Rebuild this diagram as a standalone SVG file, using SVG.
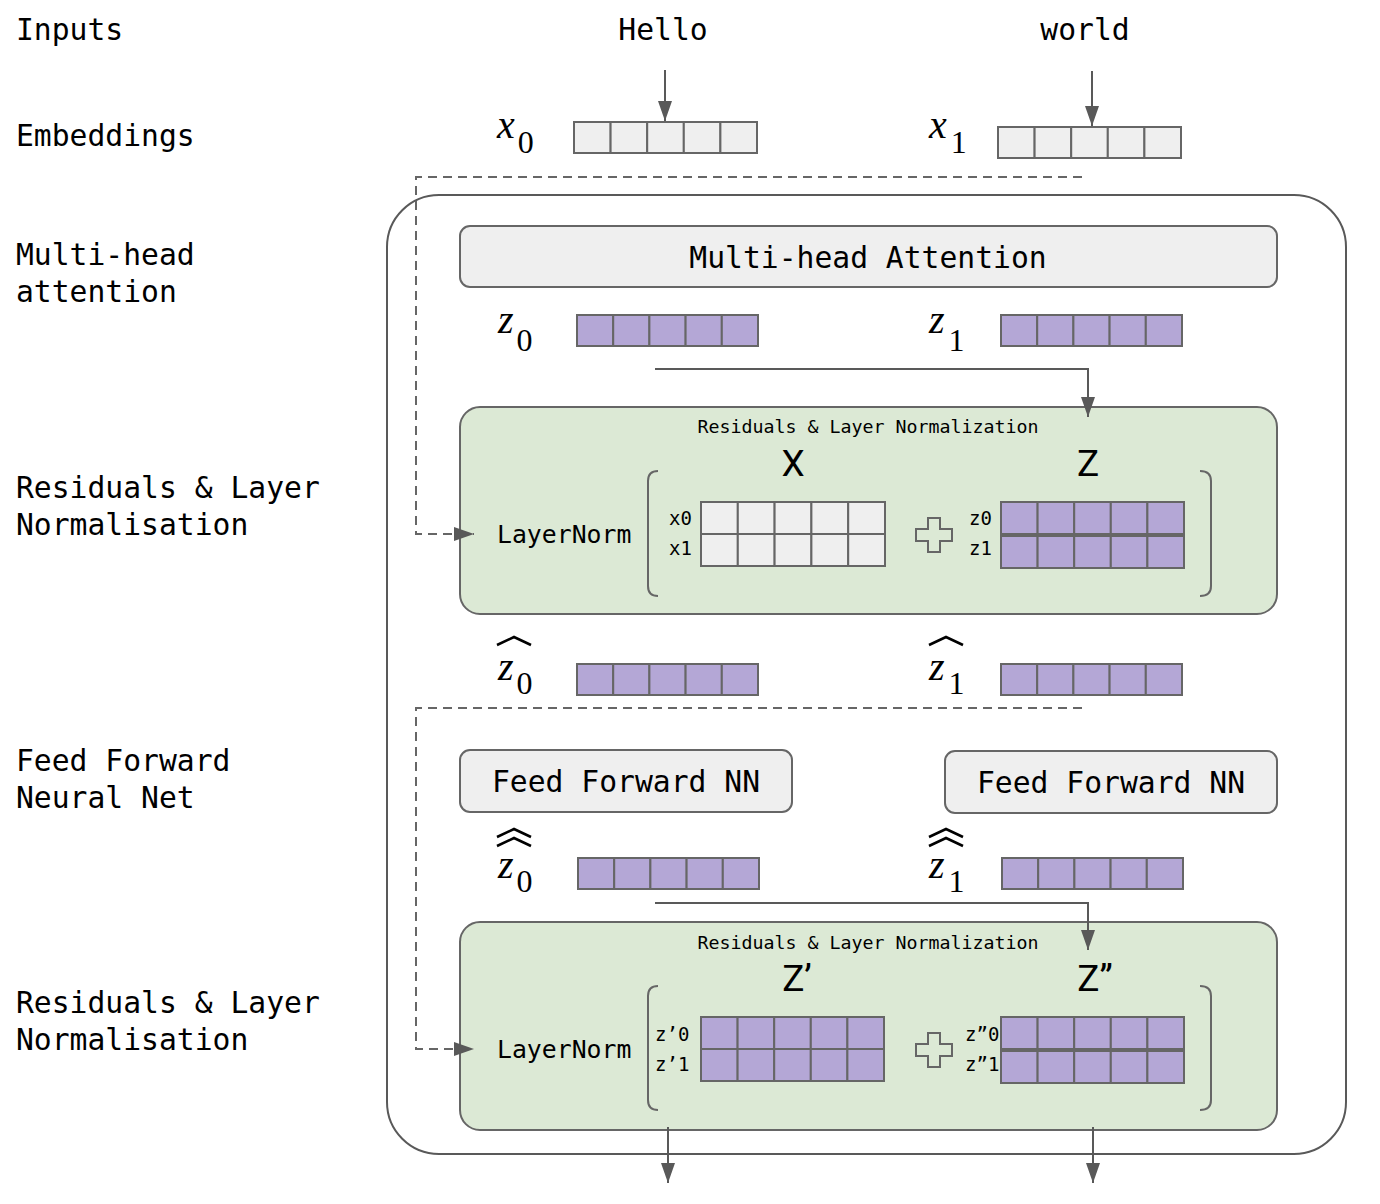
<svg xmlns="http://www.w3.org/2000/svg" xmlns:xlink="http://www.w3.org/1999/xlink" width="1380" height="1204" viewBox="0 0 1380 1204">
<style>
.lbl{font-family:"DejaVu Sans Mono","Liberation Mono",monospace;font-size:29.7px;fill:#000}
.mid{text-anchor:middle}
.small{font-family:"DejaVu Sans Mono","Liberation Mono",monospace;font-size:18.3px;fill:#000}
.ln{font-family:"DejaVu Sans Mono","Liberation Mono",monospace;font-size:24.8px;fill:#000}
.ml{font-family:"DejaVu Sans Mono","Liberation Mono",monospace;font-size:19px;fill:#000}
.big{font-family:Roboto,"Liberation Sans",sans-serif;font-size:37px;fill:#000;text-anchor:middle}
.math{font-family:"Liberation Serif",serif;font-size:32px;fill:#000}
.it{font-style:italic;font-size:40px}
.cg{fill:#efefef;stroke:#666;stroke-width:2}
.cp{fill:#b4a7d6;stroke:#666;stroke-width:2}
.box{fill:#efefef;stroke:#666;stroke-width:2}
.green{fill:#dce9d5;stroke:#666;stroke-width:2}
.conn{fill:none;stroke:#595959;stroke-width:2}
.dash{fill:none;stroke:#666;stroke-width:2;stroke-dasharray:9 6}
.hat{fill:none;stroke:#000;stroke-width:2.6;stroke-linejoin:miter}
.brk{fill:none;stroke:#666;stroke-width:2}
.plus{fill:none;stroke:#666;stroke-width:2}
</style>
<defs>
<marker id="ah" markerUnits="userSpaceOnUse" markerWidth="22" markerHeight="16" refX="20" refY="7" orient="auto">
<path d="M0,0 L20,7 L0,14 z" fill="#595959"/>
</marker>
<g id="vg">
<rect class="cg" x="0" y="0" width="36.6" height="31"/><rect class="cg" x="36.6" y="0" width="36.6" height="31"/><rect class="cg" x="73.2" y="0" width="36.6" height="31"/><rect class="cg" x="109.8" y="0" width="36.6" height="31"/><rect class="cg" x="146.4" y="0" width="36.6" height="31"/>
</g>
<g id="vp">
<rect class="cp" x="0" y="0" width="36.2" height="31"/><rect class="cp" x="36.2" y="0" width="36.2" height="31"/><rect class="cp" x="72.4" y="0" width="36.2" height="31"/><rect class="cp" x="108.6" y="0" width="36.2" height="31"/><rect class="cp" x="144.8" y="0" width="36.2" height="31"/>
</g>
<g id="mg">
<rect class="cg" x="0" y="0" width="36.8" height="32"/><rect class="cg" x="36.8" y="0" width="36.8" height="32"/><rect class="cg" x="73.6" y="0" width="36.8" height="32"/><rect class="cg" x="110.4" y="0" width="36.8" height="32"/><rect class="cg" x="147.2" y="0" width="36.8" height="32"/>
</g>
<g id="mp">
<rect class="cp" x="0" y="0" width="36.6" height="32"/><rect class="cp" x="36.6" y="0" width="36.6" height="32"/><rect class="cp" x="73.2" y="0" width="36.6" height="32"/><rect class="cp" x="109.8" y="0" width="36.6" height="32"/><rect class="cp" x="146.4" y="0" width="36.6" height="32"/>
</g>
<path id="pl" class="plus" d="M-6,-17 H6 V-6 H18 V6 H6 V17 H-6 V6 H-18 V-6 H-6 Z"/>
</defs>

<g id="row-labels">
<text class="lbl" x="16" y="40">Inputs</text>
<text class="lbl" x="16" y="146">Embeddings</text>
<text class="lbl" x="16" y="265">Multi-head</text>
<text class="lbl" x="16" y="302">attention</text>
<text class="lbl" x="16" y="498">Residuals &amp; Layer</text>
<text class="lbl" x="16" y="535">Normalisation</text>
<text class="lbl" x="16" y="771">Feed Forward</text>
<text class="lbl" x="16" y="808">Neural Net</text>
<text class="lbl" x="16" y="1013">Residuals &amp; Layer</text>
<text class="lbl" x="16" y="1050">Normalisation</text>
</g>

<g id="input-hello"><text class="lbl mid" x="663" y="40">Hello</text></g>
<g id="input-world"><text class="lbl mid" x="1085" y="40">world</text></g>

<g id="container"><rect x="387" y="195" width="959" height="959" rx="52" fill="none" stroke="#595959" stroke-width="2"/></g>

<g id="emb-x0">
<text class="math" x="497" y="138"><tspan class="it">x</tspan><tspan dx="3" dy="15">0</tspan></text>
<use xlink:href="#vg" x="574" y="122"/>
</g>
<g id="emb-x1">
<text class="math" x="929" y="138"><tspan class="it">x</tspan><tspan dx="4" dy="15">1</tspan></text>
<use xlink:href="#vg" x="998" y="127"/>
</g>

<g id="mha"><rect class="box" x="460" y="226" width="817" height="61" rx="10"/><text class="lbl mid" x="868" y="268">Multi-head Attention</text></g>

<g id="z0">
<text class="math" x="498" y="333"><tspan class="it">z</tspan><tspan dx="3" dy="18">0</tspan></text>
<use xlink:href="#vp" x="577" y="315"/>
</g>
<g id="z1">
<text class="math" x="929" y="333"><tspan class="it">z</tspan><tspan dx="4" dy="18">1</tspan></text>
<use xlink:href="#vp" x="1001" y="315"/>
</g>

<g id="res1">
<rect class="green" x="460" y="407" width="817" height="207" rx="20"/>
<text class="small mid" x="868" y="433">Residuals &amp; Layer Normalization</text>
<text class="big" x="793" y="476">X</text>
<text class="big" x="1088" y="476">Z</text>
<text class="ln" x="497" y="543">LayerNorm</text>
<path class="brk" d="M658,471 Q648,471 648,481 V586 Q648,596 658,596"/>
<path class="brk" d="M1200,471 Q1211,471 1211,481 V586 Q1211,596 1200,596"/>
<text class="ml" x="669" y="525">x0</text>
<text class="ml" x="669" y="555">x1</text>
<use xlink:href="#mg" x="701" y="502"/>
<use xlink:href="#mg" x="701" y="534"/>
<use xlink:href="#pl" x="934" y="535"/>
<text class="ml" x="969" y="525">z0</text>
<text class="ml" x="969" y="555">z1</text>
<use xlink:href="#mp" x="1001" y="502"/>
<use xlink:href="#mp" x="1001" y="536"/>
</g>

<g id="zh0">
<path class="hat" d="M497,645 L514,637 L531,645"/>
<text class="math" x="498" y="680"><tspan class="it">z</tspan><tspan dx="3" dy="14">0</tspan></text>
<use xlink:href="#vp" x="577" y="664"/>
</g>
<g id="zh1">
<path class="hat" d="M929,645 L946,637 L963,645"/>
<text class="math" x="929" y="680"><tspan class="it">z</tspan><tspan dx="4" dy="14">1</tspan></text>
<use xlink:href="#vp" x="1001" y="664"/>
</g>

<g id="ffn0"><rect class="box" x="460" y="750" width="332" height="62" rx="10"/><text class="lbl mid" x="626" y="792">Feed Forward NN</text></g>
<g id="ffn1"><rect class="box" x="945" y="751" width="332" height="62" rx="10"/><text class="lbl mid" x="1111" y="793">Feed Forward NN</text></g>

<g id="zhh0">
<path class="hat" d="M497,837 L514,829 L531,837"/>
<path class="hat" d="M497,846 L514,838 L531,846"/>
<text class="math" x="498" y="878"><tspan class="it">z</tspan><tspan dx="3" dy="14">0</tspan></text>
<use xlink:href="#vp" x="578" y="858"/>
</g>
<g id="zhh1">
<path class="hat" d="M929,837 L946,829 L963,837"/>
<path class="hat" d="M929,846 L946,838 L963,846"/>
<text class="math" x="929" y="878"><tspan class="it">z</tspan><tspan dx="4" dy="14">1</tspan></text>
<use xlink:href="#vp" x="1002" y="858"/>
</g>

<g id="res2">
<rect class="green" x="460" y="922" width="817" height="208" rx="20"/>
<text class="small mid" x="868" y="949">Residuals &amp; Layer Normalization</text>
<text class="big" x="797" y="991">Z’</text>
<text class="big" x="1095" y="991">Z”</text>
<text class="ln" x="497" y="1058">LayerNorm</text>
<path class="brk" d="M658,986 Q648,986 648,996 V1100 Q648,1110 658,1110"/>
<path class="brk" d="M1200,986 Q1211,986 1211,996 V1100 Q1211,1110 1200,1110"/>
<text class="ml" x="655" y="1041">z’0</text>
<text class="ml" x="655" y="1071">z’1</text>
<use xlink:href="#mp" x="701" y="1017"/>
<use xlink:href="#mp" x="701" y="1049"/>
<use xlink:href="#pl" x="934" y="1050"/>
<text class="ml" x="965" y="1041">z”0</text>
<text class="ml" x="965" y="1071">z”1</text>
<use xlink:href="#mp" x="1001" y="1017"/>
<use xlink:href="#mp" x="1001" y="1051"/>
</g>

<g id="connectors">
<line class="conn" x1="665" y1="70" x2="665" y2="121" marker-end="url(#ah)"/>
<line class="conn" x1="1092" y1="71" x2="1092" y2="126" marker-end="url(#ah)"/>
<path class="dash" d="M1082,177 H416 V534 H474" marker-end="url(#ah)"/>
<path class="conn" d="M655,369 H1088 V417" marker-end="url(#ah)"/>
<path class="dash" d="M1082,708 H416 V1049 H474" marker-end="url(#ah)"/>
<path class="conn" d="M655,903 H1088 V950" marker-end="url(#ah)"/>
<line class="conn" x1="668" y1="1127" x2="668" y2="1183" marker-end="url(#ah)"/>
<line class="conn" x1="1093" y1="1127" x2="1093" y2="1183" marker-end="url(#ah)"/>
</g>
</svg>
